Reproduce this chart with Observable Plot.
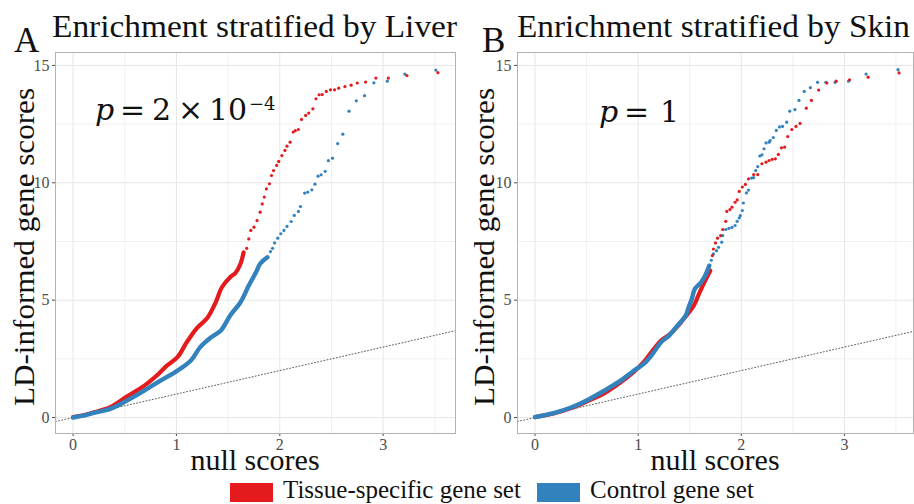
<!DOCTYPE html>
<html><head><meta charset="utf-8">
<script src="https://cdn.jsdelivr.net/npm/d3@7"></script>
<script src="https://cdn.jsdelivr.net/npm/@observablehq/plot@0.6"></script>
<style>
body{margin:0;background:#fff;}
#wrap{position:relative;width:914px;height:504px;overflow:hidden;font-family:"Liberation Serif",serif;background:#fff;}
.panel{position:absolute;top:0;}
.panel svg text{font-family:"Liberation Serif",serif !important;font-size:16px !important;fill:#4d4d4d;}
#overlay{position:absolute;left:0;top:0;pointer-events:none;}
.sw{position:absolute;top:483px;width:43px;height:19px;}
.lt{position:absolute;top:476px;font-size:25px;line-height:28px;color:#111;white-space:nowrap;}
</style></head><body>
<div id="wrap">
  <div id="pA" class="panel" style="left:0"></div>
  <div id="pB" class="panel" style="left:460px"></div>
  <svg id="overlay" width="914" height="504" font-family="Liberation Serif, serif" fill="#111"></svg>
  <div id="legend"></div>
</div>
<script>
// ---- data ----
const xTicks = [0, 1, 2, 3];
const yTicks = [0, 5, 10, 15];
const xMajor = [0, 1, 2, 3];
const xMinor = [0.5, 1.5, 2.5, 3.5];
const yMajor = [0, 5, 10, 15];
const yMinor = [2.5, 7.5, 12.5];
const seriesNames = ["Tissue-specific gene set", "Control gene set"];
const seriesColors = ["#e41a1c", "#3182bd"];
const panelTitles = ["Enrichment stratified by Liver", "Enrichment stratified by Skin"];
const panelLetters = ["A", "B"];
const pValueA = ["p", "=", "2", "×", "10", "−4"];
const pValueB = ["p", "=", "1"];

// Liver panel: tissue-specific (red)
const liverTissueBand = [[0,0.02],[0.1,0.1],[0.2,0.22],[0.36,0.44],[0.52,0.89],[0.69,1.36],[0.81,1.79],[0.91,2.22],[1.01,2.57],[1.10,3.21],[1.20,3.82],[1.30,4.25],[1.38,4.91],[1.44,5.55],[1.52,5.98],[1.57,6.15],[1.62,6.55],[1.65,7.04]];
const liverTissueTail = [[1.68,7.21],[1.70,7.61],[1.72,7.97],[1.75,8.11],[1.78,8.39],[1.81,8.75],[1.83,9.10],[1.85,9.39],[1.87,9.74],[1.90,9.96],[1.92,10.31],[1.94,10.52],[1.97,10.74],[1.99,10.91],[2.02,11.16],[2.05,11.38],[2.07,11.56],[2.10,11.73],[2.13,12.16],[2.15,12.22],[2.18,12.27],[2.21,12.70],[2.25,12.87],[2.28,12.97],[2.32,13.15],[2.35,13.58],[2.38,13.75],[2.41,13.76],[2.45,13.89],[2.49,13.96],[2.53,13.96],[2.57,14.03],[2.63,14.10],[2.69,14.16],[2.75,14.25],[2.83,14.29],[2.93,14.46],[3.05,14.46],[3.23,14.57],[3.53,14.69]];
// Liver panel: control (blue)
const liverControlBand = [[0,0],[0.1,0.08],[0.2,0.2],[0.36,0.37],[0.52,0.72],[0.69,1.15],[0.85,1.58],[1.01,2.0],[1.14,2.43],[1.23,3.0],[1.33,3.40],[1.43,3.71],[1.52,4.35],[1.62,4.91],[1.70,5.62],[1.77,6.19],[1.81,6.55],[1.88,6.83]];
const liverControlTail = [[1.91,7.07],[1.93,7.21],[1.95,7.44],[1.98,7.64],[2.01,7.83],[2.04,7.97],[2.07,8.14],[2.11,8.35],[2.14,8.61],[2.18,8.78],[2.20,8.99],[2.24,9.56],[2.27,9.60],[2.31,9.70],[2.34,9.94],[2.37,10.28],[2.40,10.34],[2.44,10.49],[2.47,10.94],[2.51,11.05],[2.56,11.67],[2.61,12.07],[2.67,13.05],[2.74,13.49],[2.82,13.71],[2.91,14.26],[3.04,14.33],[3.21,14.63],[3.51,14.80]];

// Skin panel: tissue-specific (red)
const skinTissueBand = [[0,0.02],[0.18,0.17],[0.35,0.40],[0.51,0.70],[0.67,1.03],[0.83,1.50],[0.96,1.95],[1.06,2.39],[1.14,2.85],[1.22,3.27],[1.30,3.52],[1.38,3.87],[1.46,4.30],[1.54,4.77],[1.59,5.27],[1.65,5.83],[1.70,6.26]];
const skinTissueTail = [[1.72,6.90],[1.73,7.18],[1.75,7.44],[1.77,7.64],[1.80,7.75],[1.82,8.01],[1.85,8.36],[1.86,8.78],[1.89,8.86],[1.91,8.96],[1.94,9.17],[1.96,9.27],[1.98,9.63],[2.01,9.82],[2.04,9.93],[2.07,10.17],[2.12,10.35],[2.16,10.35],[2.20,10.81],[2.24,10.88],[2.27,10.95],[2.30,11.00],[2.33,11.02],[2.36,11.21],[2.39,11.49],[2.42,11.52],[2.45,11.97],[2.49,12.27],[2.53,12.40],[2.57,12.53],[2.63,13.18],[2.68,13.51],[2.75,13.95],[2.83,14.25],[2.92,14.33],[3.05,14.39],[3.23,14.50],[3.53,14.68]];
// Skin panel: control (blue)
const skinControlBand = [[0,0.02],[0.18,0.19],[0.35,0.43],[0.51,0.75],[0.67,1.14],[0.83,1.57],[0.96,2.0],[1.06,2.31],[1.14,2.71],[1.22,3.20],[1.30,3.49],[1.38,3.91],[1.46,4.34],[1.49,4.70],[1.52,5.05],[1.55,5.48],[1.61,5.76],[1.65,6.05],[1.69,6.47]];
const skinControlTail = [[1.71,6.70],[1.73,6.97],[1.76,7.11],[1.78,7.25],[1.81,7.47],[1.82,7.75],[1.85,8.01],[1.88,8.06],[1.91,8.10],[1.94,8.18],[1.96,8.36],[1.98,8.50],[1.99,8.60],[2.01,8.82],[2.02,9.14],[2.05,9.57],[2.07,9.69],[2.10,10.20],[2.12,10.22],[2.14,10.52],[2.16,10.69],[2.18,11.14],[2.20,11.19],[2.22,11.45],[2.24,11.70],[2.27,11.73],[2.28,11.80],[2.31,11.93],[2.34,12.23],[2.37,12.38],[2.40,12.40],[2.44,12.58],[2.47,13.05],[2.52,13.12],[2.56,13.51],[2.61,13.89],[2.67,14.05],[2.74,14.28],[2.82,14.28],[2.91,14.28],[3.04,14.33],[3.21,14.63],[3.52,14.82]];

function panel(tBand, tTail, cBand, cTail, opts) {
  const xDom = [-0.17, opts.xMax];
  const X = d => d[0], Y = d => d[1];
  return Plot.plot({
    width: opts.width, height: 478,
    marginLeft: opts.ml, marginRight: opts.mr, marginTop: 52, marginBottom: 45,
    x: {domain: xDom, ticks: xTicks, tickSize: 3, tickPadding: 2, tickFormat: d3.format("d"), label: null},
    y: {domain: [-0.68, 15.55], ticks: yTicks, tickSize: 3, tickPadding: 3, tickFormat: d3.format("d"), label: null},
    style: {fontFamily: "'Liberation Serif', serif", fontSize: "16px", color: "#4d4d4d", background: "transparent", overflow: "visible"},
    marks: [
      Plot.ruleX(xMinor, {stroke: "#f0f0f0", strokeWidth: 1}),
      Plot.ruleY(yMinor, {stroke: "#f0f0f0", strokeWidth: 1}),
      Plot.ruleX(xMajor, {stroke: "#e6e6e6", strokeWidth: 1}),
      Plot.ruleY(yMajor, {stroke: "#e6e6e6", strokeWidth: 1}),
      Plot.line(xDom, {x: d => d, y: d => d, stroke: "#333", strokeWidth: 0.8, strokeDasharray: "1,2.2"}),
      Plot.line(tBand, {x: X, y: Y, curve: "catmull-rom", stroke: seriesColors[0], strokeWidth: 4.2, strokeLinecap: "round", strokeLinejoin: "round"}),
      Plot.line(cBand, {x: X, y: Y, curve: "catmull-rom", stroke: seriesColors[1], strokeWidth: 4.4, strokeLinecap: "round", strokeLinejoin: "round"}),
      Plot.dot(cTail, {x: X, y: Y, r: 1.6, fill: seriesColors[1], stroke: "none"}),
      Plot.dot(tTail, {x: X, y: Y, r: 1.6, fill: seriesColors[0], stroke: "none"}),
      Plot.frame({stroke: "#b3b3b3", strokeWidth: 1})
    ]
  });
}

document.getElementById("pA").appendChild(panel(liverTissueBand, liverTissueTail, liverControlBand, liverControlTail, {xMax: 3.70, width: 458, ml: 55, mr: 3}));
document.getElementById("pB").appendChild(panel(skinTissueBand, skinTissueTail, skinControlBand, skinControlTail, {xMax: 3.67, width: 454, ml: 57, mr: 1}));

// ---- text overlay ----
const ov = d3.select("#overlay");
panelTitles.forEach((t, i) => {
  ov.append("text").attr("x", [14, 482][i]).attr("y", 52).attr("font-size", 35).text(panelLetters[i]);
  ov.append("text").attr("x", [52, 517][i]).attr("y", 37).attr("font-size", 31)
    .attr("textLength", [405, 393][i]).attr("lengthAdjust", "spacingAndGlyphs").text(t);
  ov.append("text").attr("transform", `translate(${[34, 494][i]},247) rotate(-90)`).attr("text-anchor", "middle").attr("font-size", 30)
    .attr("textLength", 318).attr("lengthAdjust", "spacingAndGlyphs").text("LD-informed gene scores");
  ov.append("text").attr("x", [255, 715][i]).attr("y", 470).attr("text-anchor", "middle").attr("font-size", 30).text("null scores");
});
// p-value annotations (math-style)
const mathFont = "DejaVu Serif, serif";
const pa = ov.append("text").attr("y", 120).attr("font-size", 30).attr("font-family", mathFont);
[95, 120, 152, 178, 209].forEach((x, k) => {
  pa.append("tspan").attr("x", x).attr("y", 120).attr("font-style", k === 0 ? "italic" : null).text(pValueA[k]);
});
pa.append("tspan").attr("x", 249).attr("y", 110).attr("font-size", 18).text(pValueA[5]);
const pb = ov.append("text").attr("y", 122).attr("font-size", 30).attr("font-family", mathFont);
[599, 624, 660].forEach((x, k) => {
  pb.append("tspan").attr("x", x).attr("font-style", k === 0 ? "italic" : null).text(pValueB[k]);
});

// ---- legend ----
const lg = document.getElementById("legend");
const swX = [230, 537], txX = [283, 590];
seriesNames.forEach((n, i) => {
  const s = document.createElement("div"); s.className = "sw"; s.style.left = swX[i] + "px"; s.style.background = seriesColors[i]; lg.appendChild(s);
  const t = document.createElement("div"); t.className = "lt"; t.style.left = txX[i] + "px"; t.textContent = n; lg.appendChild(t);
});
</script>
</body></html>
